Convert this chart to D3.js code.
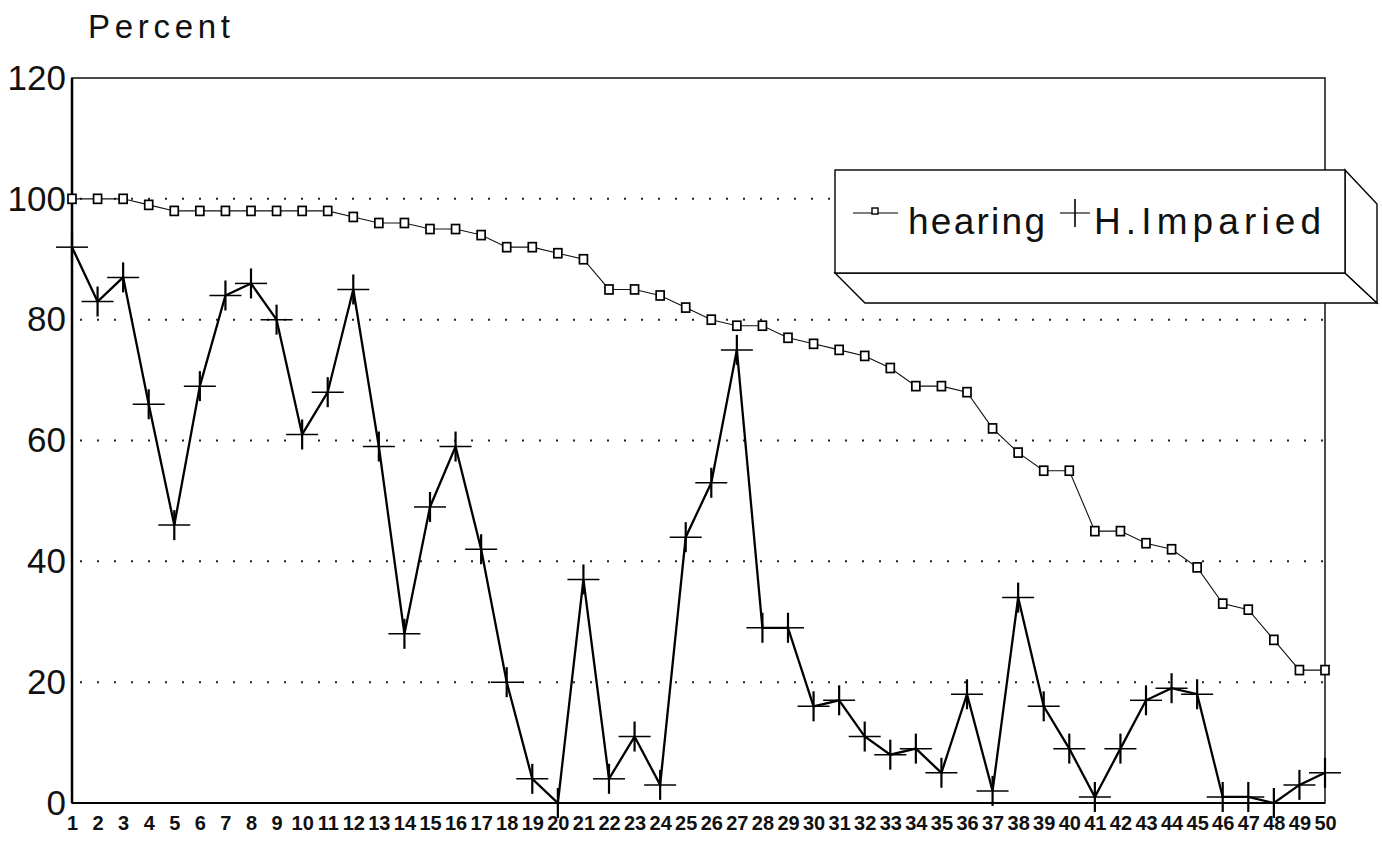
<!DOCTYPE html>
<html>
<head>
<meta charset="utf-8">
<script src="https://cdn.jsdelivr.net/npm/d3@7"></script>
<style>
  body { margin: 0; background: #fff; }
  svg { display: block; }
</style>
</head>
<body>
<div id="chart"></div>
<script>
// Chart data
const positions = [1, 2, 3, 4, 5, 6, 7, 8, 9, 10, 11, 12, 13, 14, 15, 16, 17, 18, 19, 20,
    21, 22, 23, 24, 25, 26, 27, 28, 29, 30, 31, 32, 33, 34, 35, 36, 37, 38, 39, 40,
    41, 42, 43, 44, 45, 46, 47, 48, 49, 50];
const hearing = [100, 100, 100, 99, 98, 98, 98, 98, 98, 98, 98, 97, 96, 96, 95, 95, 94, 92, 92, 91,
    90, 85, 85, 84, 82, 80, 79, 79, 77, 76, 75, 74, 72, 69, 69, 68, 62, 58, 55, 55,
    45, 45, 43, 42, 39, 33, 32, 27, 22, 22];
const impaired = [92, 83, 87, 66, 46, 69, 84, 86, 80, 61, 68, 85, 59, 28, 49, 59, 42, 20, 4, 0,
    37, 4, 11, 3, 44, 53, 75, 29, 29, 16, 17, 11, 8, 9, 5, 18, 2, 34, 16, 9,
    1, 9, 17, 19, 18, 1, 1, 0, 3, 5];
const yTicks = [0, 20, 40, 60, 80, 100, 120];
const gridTicks = [20, 40, 60, 80, 100];
const seriesNames = ['hearing', 'H.Imparied'];

const width = 1382, height = 843;
const plot = { left: 72, right: 1325, top: 78, bottom: 803 };

const svg = d3.select('#chart')
    .append('svg')
    .attr('width', width)
    .attr('height', height)
    .style('font-family', '"Liberation Sans", Arial, sans-serif');

const x = d3.scaleLinear().domain([1, 50]).range([plot.left, plot.right]);
const y = d3.scaleLinear().domain([0, 120]).range([plot.bottom, plot.top]);

// Dotted gridlines
svg.append('g').selectAll('line')
    .data(gridTicks)
    .enter().append('line')
    .attr('x1', plot.left + 8)
    .attr('x2', plot.right)
    .attr('y1', d => y(d))
    .attr('y2', d => y(d))
    .attr('stroke', '#222')
    .attr('stroke-width', 2)
    .attr('stroke-dasharray', '2,15');

// Y axis labels
const yAxis = svg.append('g')
    .attr('transform', `translate(${plot.left - 4},0)`)
    .call(d3.axisLeft(y).tickValues(yTicks).tickSize(0).tickPadding(2));
yAxis.select('.domain').remove();
yAxis.selectAll('text')
    .attr('font-size', 35)
    .attr('font-family', '"Liberation Sans", Arial, sans-serif')
    .attr('fill', '#111');

// X axis labels
const xAxis = svg.append('g')
    .attr('transform', `translate(0,${plot.bottom})`)
    .call(d3.axisBottom(x).tickValues(positions).tickSize(0).tickPadding(13));
xAxis.select('.domain').remove();
xAxis.selectAll('text')
    .attr('font-size', 20)
    .attr('font-weight', 'bold')
    .attr('font-family', '"Liberation Sans Narrow", "Liberation Sans", Arial, sans-serif')
    .attr('fill', '#111');

// Frame
svg.append('rect')
    .attr('x', plot.left)
    .attr('y', plot.top)
    .attr('width', plot.right - plot.left)
    .attr('height', plot.bottom - plot.top)
    .attr('fill', 'none')
    .attr('stroke', '#111')
    .attr('stroke-width', 1.5);
svg.append('line')
    .attr('x1', plot.left).attr('x2', plot.left)
    .attr('y1', plot.top).attr('y2', plot.bottom)
    .attr('stroke', '#000').attr('stroke-width', 2.5);
svg.append('line')
    .attr('x1', plot.left).attr('x2', plot.right)
    .attr('y1', plot.bottom).attr('y2', plot.bottom)
    .attr('stroke', '#000').attr('stroke-width', 2.2);

// Title
svg.append('text')
    .attr('x', 88)
    .attr('y', 38)
    .attr('font-size', 33)
    .attr('textLength', 142)
    .attr('fill', '#111')
    .text('Percent');

// Hearing series
const seriesLine = d3.line()
    .x((d, i) => x(positions[i]))
    .y(d => y(d));

svg.append('path')
    .datum(hearing)
    .attr('d', seriesLine)
    .attr('fill', 'none')
    .attr('stroke', '#111')
    .attr('stroke-width', 1.1);

svg.append('g').selectAll('rect')
    .data(hearing)
    .enter().append('rect')
    .attr('x', (d, i) => x(positions[i]) - 4)
    .attr('y', d => y(d) - 4.5)
    .attr('width', 8)
    .attr('height', 9)
    .attr('fill', '#fff')
    .attr('stroke', '#000')
    .attr('stroke-width', 1.7);

// Hearing impaired series
svg.append('path')
    .datum(impaired)
    .attr('d', seriesLine)
    .attr('fill', 'none')
    .attr('stroke', '#000')
    .attr('stroke-width', 2.3);

const crosses = svg.append('g').selectAll('g')
    .data(impaired)
    .enter().append('g')
    .attr('transform', (d, i) => `translate(${x(positions[i])},${y(d)})`);
crosses.append('line')
    .attr('x1', -16).attr('x2', 16)
    .attr('stroke', '#000').attr('stroke-width', 1.5);
crosses.append('line')
    .attr('y1', -15).attr('y2', 15)
    .attr('stroke', '#000').attr('stroke-width', 2.2);

// Legend (3D box)
const legend = svg.append('g');
legend.append('polygon')
    .attr('points', '835,273 1345,273 1377,303 865,303')
    .attr('fill', '#fff').attr('stroke', '#000').attr('stroke-width', 1.4);
legend.append('polygon')
    .attr('points', '1345,170 1377,204 1377,303 1345,273')
    .attr('fill', '#fff').attr('stroke', '#000').attr('stroke-width', 1.4);
legend.append('rect')
    .attr('x', 835).attr('y', 170)
    .attr('width', 510).attr('height', 103)
    .attr('fill', '#fff').attr('stroke', '#000').attr('stroke-width', 1.4);

// hearing key
legend.append('line')
    .attr('x1', 853).attr('x2', 898).attr('y1', 213).attr('y2', 213)
    .attr('stroke', '#000').attr('stroke-width', 1.1);
legend.append('rect')
    .attr('x', 872).attr('y', 208).attr('width', 6).attr('height', 6)
    .attr('fill', '#fff').attr('stroke', '#000').attr('stroke-width', 1.4);
legend.append('text')
    .attr('x', 908).attr('y', 234)
    .attr('font-size', 37)
    .attr('textLength', 137)
    .attr('fill', '#111')
    .text(seriesNames[0]);

// impaired key
legend.append('line')
    .attr('x1', 1060).attr('x2', 1090).attr('y1', 213).attr('y2', 213)
    .attr('stroke', '#000').attr('stroke-width', 1.1);
legend.append('line')
    .attr('x1', 1075).attr('x2', 1075).attr('y1', 199).attr('y2', 227)
    .attr('stroke', '#000').attr('stroke-width', 1.6);
legend.append('text')
    .attr('x', 1094).attr('y', 234)
    .attr('font-size', 37)
    .attr('textLength', 227)
    .attr('fill', '#111')
    .text(seriesNames[1]);
</script>
</body>
</html>
